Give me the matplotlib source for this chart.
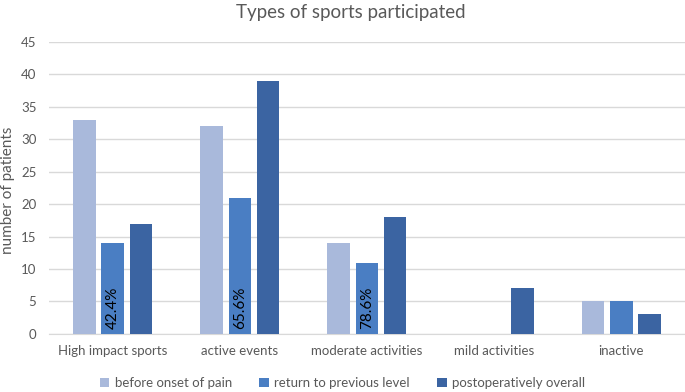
import matplotlib.pyplot as plt
import numpy as np

categories = ['High impact sports', 'active events', 'moderate activities', 'mild activities', 'inactive']
before = [33, 32, 14, 0, 5]
returned = [14, 21, 11, 0, 5]
overall = [17, 39, 18, 7, 3]
pct_labels = ['42.4%', '65.6%', '78.6%', '', '']
series_names = ['before onset of pain', 'return to previous level', 'postoperatively overall']

plt.rcParams['font.family'] = ['Lato', 'DejaVu Sans']
txt = '#595959'

fig = plt.figure(figsize=(6.85, 3.92), dpi=100)
ax = fig.add_axes([0.0715, 0.148, 0.9285, 0.746])

x = np.arange(len(categories))
w = 0.177
step = 0.222
colors = ['#A9B9DB', '#4A7EC3', '#3B64A2']
for i, (vals, c, name) in enumerate(zip([before, returned, overall], colors, series_names)):
    ax.bar(x + (i - 1) * step, vals, width=w, color=c, label=name, zorder=3)

# percentage labels inside the "return to previous level" bars
for xi, lab in zip(x, pct_labels):
    if lab:
        ax.text(xi, 0.75, lab, rotation=90, ha='center', va='bottom', fontsize=11, color='black', zorder=4)

ax.set_xlim(-0.5, len(categories) - 0.5)
ax.set_ylim(0, 45)
ax.set_yticks(range(0, 46, 5))
ax.yaxis.grid(True, color='#D9D9D9', linewidth=1, zorder=0)
for s in ['top', 'right', 'left']:
    ax.spines[s].set_visible(False)
ax.spines['bottom'].set_color('#D9D9D9')
ax.tick_params(axis='both', length=0, colors=txt, labelsize=9.5)
ax.tick_params(axis='x', pad=8)
ax.tick_params(axis='y', pad=9)
ax.set_xticks(x)
ax.set_xticklabels(categories)
ax.set_ylabel('number of patients', color=txt, fontsize=11)
ax.yaxis.set_label_coords(-0.054, 0.49)
fig.suptitle('Types of sports participated', x=0.512, y=0.99, fontsize=13.5, color=txt)

fig.legend(loc='lower center', ncol=3, frameon=False, bbox_to_anchor=(0.5, -0.022),
           fontsize=9.5, labelcolor=txt, handlelength=0.7, handleheight=0.7,
           handletextpad=0.4, columnspacing=2.1)

fig.savefig('out.png', dpi=100)
